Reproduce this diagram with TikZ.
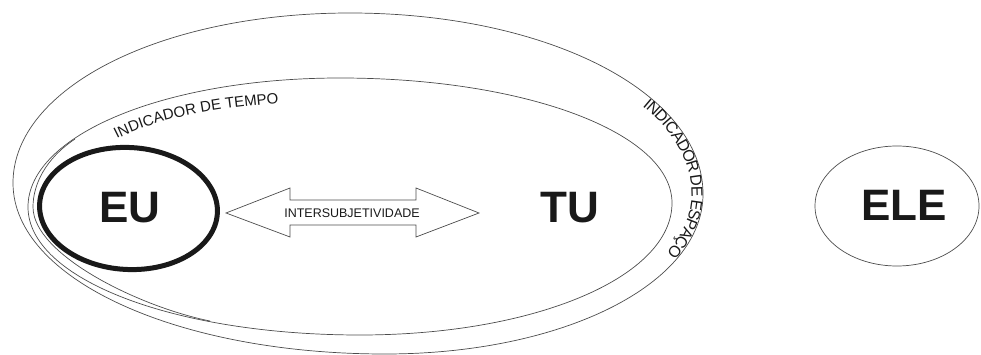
\documentclass[tikz,border=0pt]{standalone}
\usepackage{fontspec}
\setmainfont{Liberation Sans}
\usetikzlibrary{decorations.text}
\newcommand\labfont{\fontsize{15}{18}\selectfont}
\newcommand\labfontb{\fontsize{16}{19}\selectfont}
\tikzset{
  thinline/.style={draw=black!70, line width=0.7pt},
  bigword/.style={font=\fontsize{44}{50}\selectfont\bfseries, text=black!90, inner sep=0pt},
  smallword/.style={font=\fontsize{12.5}{15}\selectfont, text=black!90, inner sep=0pt},
}
\begin{document}
\begin{tikzpicture}[x=1pt,y=1pt]
\useasboundingbox (0,0) rectangle (981,-355);
% outer shape
\draw[thinline] (13,-183) .. controls (13,-88) and (161,-13) .. (350,-13)
  .. controls (548,-13) and (703,-93) .. (703,-194)
  .. controls (703,-284) and (563,-354) .. (385,-354)
  .. controls (177,-354) and (13,-279) .. (13,-183) -- cycle;
% inner shape
\draw[thinline] (28,-207) .. controls (28,-135) and (165,-78) .. (340,-78)
  .. controls (526,-78) and (672,-133) .. (672,-203)
  .. controls (672,-277) and (535,-335) .. (360,-335)
  .. controls (174,-335) and (28,-279) .. (28,-207) -- cycle;
% second line hugging the inner shape on the left
\draw[thinline] (75,-139) .. controls (45,-159) and (33,-185) .. (33,-207)
  .. controls (33,-255) and (140,-307) .. (210,-321);
% EU
\draw[line width=5pt, black!90] (128.5,-208.5) ellipse [x radius=89, y radius=61, rotate=-3];
\node[bigword] (eu) at (130,-208) {EU};
% TU
\node[bigword] (tu) at (570,-208) {TU};
% ELE
\draw[thinline] (897,-206) ellipse [x radius=82, y radius=60];
\node[bigword] (ele) at (904,-205) {ELE};
% double arrow
\draw[thinline] (226,-213) -- (290,-188) -- (290,-200) -- (416,-200) -- (416,-188)
  -- (479,-213) -- (416,-237) -- (416,-225) -- (290,-225) -- (290,-237) -- cycle;
\node[smallword] (inter) at (352,-213) {INTERSUBJETIVIDADE};
% curved labels
\path[decorate, decoration={text along path, text align=left,
  text={|\labfont\color{black!90}|INDICADOR DE TEMPO}}]
  (117,-139) .. controls (166,-114) and (231,-107) .. (292,-102);
\path[decorate, decoration={text along path, text align={align=left, left indent=10pt}, raise=-11.5pt,
  text={|\labfontb\color{black!90}|INDICADOR DE ESPAÇO}}]
  (642,-91.2) .. controls (680.7,-120.3) and (703,-155.6) .. (703,-194)
  .. controls (703,-230) and (680.6,-262.8) .. (642.4,-289.2);
\end{tikzpicture}
\end{document}
